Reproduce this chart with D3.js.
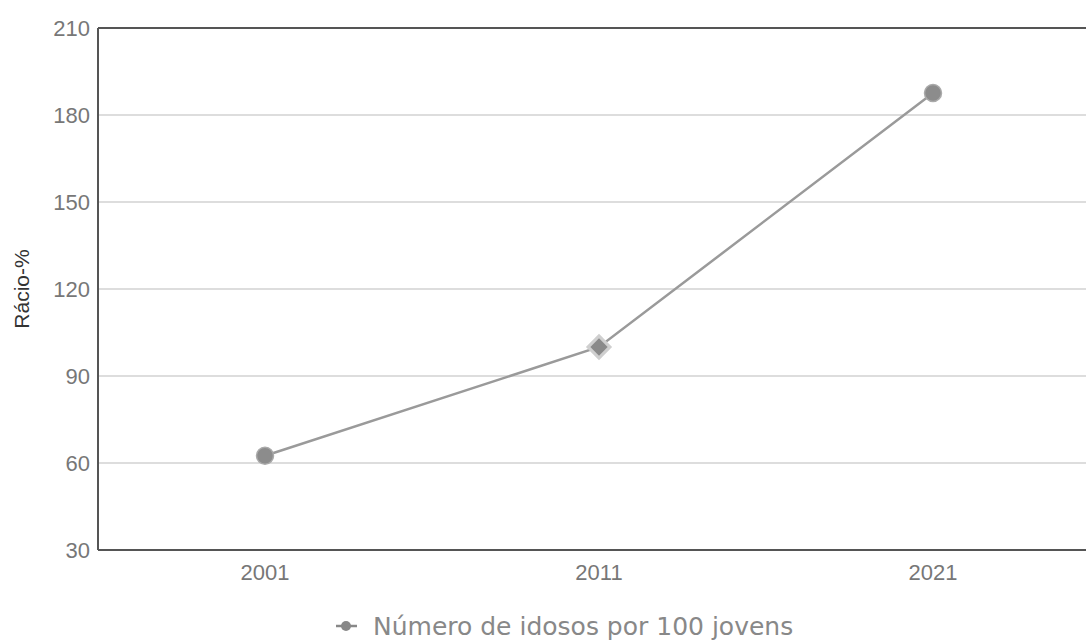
<!DOCTYPE html>
<html>
<head>
<meta charset="utf-8">
<script src="https://cdn.jsdelivr.net/npm/d3@7"></script>
<style>
  html, body { margin: 0; padding: 0; background: #fff; }
  svg { display: block; }
</style>
</head>
<body>
<svg id="chart" width="1086" height="641"></svg>
<script>
// Rácio de envelhecimento por ano censitário
const years = ["2001", "2011", "2021"];
const ratio = [62.5, 100.0, 187.6];
const yTicks = [30, 60, 90, 120, 150, 180, 210];
const seriesName = "Número de idosos por 100 jovens";
const yTitle = "Rácio-%";

const svg = d3.select("#chart");
const margin = { left: 98, top: 28, right: -14, bottom: 91 };
const W = 1086, H = 641;
const tickFont = "Arial, 'Liberation Sans', sans-serif";

const x = d3.scaleBand()
  .domain(years)
  .range([margin.left, W - margin.right]);

const y = d3.scaleLinear()
  .domain([30, 210])
  .range([H - margin.bottom, margin.top]);

// Horizontal gridlines
svg.append("g")
  .selectAll("line")
  .data(yTicks.filter(t => t !== 30 && t !== 210))
  .join("line")
  .attr("x1", margin.left)
  .attr("x2", W)
  .attr("y1", d => y(d))
  .attr("y2", d => y(d))
  .attr("stroke", "#d2d2d2")
  .attr("stroke-width", 1.5);

// Frame: top, left and bottom
const frame = svg.append("g").attr("stroke", "#555").attr("stroke-width", 2).attr("fill", "none");
frame.append("line").attr("x1", margin.left).attr("x2", W).attr("y1", y(210)).attr("y2", y(210));
frame.append("line").attr("x1", margin.left).attr("x2", margin.left).attr("y1", y(210)).attr("y2", y(30));
frame.append("line").attr("x1", margin.left).attr("x2", W).attr("y1", y(30)).attr("y2", y(30));

// Y axis labels
const yAxis = svg.append("g")
  .attr("transform", `translate(${margin.left},0)`)
  .call(d3.axisLeft(y).tickValues(yTicks).tickSize(0).tickPadding(8));
yAxis.select(".domain").remove();
yAxis.selectAll("text")
  .attr("font-family", tickFont)
  .attr("font-size", 22)
  .attr("fill", "#777");

// X axis labels
const xAxis = svg.append("g")
  .attr("transform", `translate(0,${y(30)})`)
  .call(d3.axisBottom(x).tickSize(0).tickPadding(14));
xAxis.select(".domain").remove();
xAxis.selectAll("text")
  .attr("font-family", tickFont)
  .attr("font-size", 22)
  .attr("fill", "#777");

// Y axis title
svg.append("text")
  .attr("transform", `translate(22,${(y(30) + y(210)) / 2}) rotate(-90)`)
  .attr("text-anchor", "middle")
  .attr("dy", "0.35em")
  .attr("font-family", tickFont)
  .attr("font-size", 21)
  .attr("fill", "#333")
  .text(yTitle);

// Series line
const cx = d => x(d) + x.bandwidth() / 2;
const pts = years.map((yr, i) => ({ yr, v: ratio[i] }));
svg.append("path")
  .datum(pts)
  .attr("fill", "none")
  .attr("stroke", "#9a9a9a")
  .attr("stroke-width", 2.5)
  .attr("d", d3.line().x(d => cx(d.yr)).y(d => y(d.v)));

// Markers: circles, with the highlighted 2011 point as a diamond with a halo
pts.forEach(p => {
  const t = `translate(${cx(p.yr)},${y(p.v)})`;
  if (p.yr === "2011") {
    svg.append("path")
      .attr("d", d3.symbol(d3.symbolDiamond2, 440)())
      .attr("transform", t)
      .attr("fill", "#cfcfcf");
    svg.append("path")
      .attr("d", d3.symbol(d3.symbolDiamond2, 190)())
      .attr("transform", t)
      .attr("fill", "#8a8a8a");
  } else {
    svg.append("circle")
      .attr("cx", cx(p.yr))
      .attr("cy", y(p.v))
      .attr("r", 8.5)
      .attr("fill", "#8c8c8c")
      .attr("stroke", "#aaa")
      .attr("stroke-width", 1.5);
  }
});

// Legend
const legend = svg.append("g").attr("transform", "translate(0,626)");
legend.append("text")
  .attr("x", 373)
  .attr("y", 0)
  .attr("dy", "0.35em")
  .attr("font-family", "Verdana, 'DejaVu Sans', sans-serif")
  .attr("font-size", 25)
  .attr("fill", "#888")
  .text(seriesName);
legend.append("line")
  .attr("x1", 336).attr("x2", 357)
  .attr("stroke", "#888").attr("stroke-width", 2.5);
legend.append("circle")
  .attr("cx", 346).attr("r", 5)
  .attr("fill", "#888");
</script>
</body>
</html>
